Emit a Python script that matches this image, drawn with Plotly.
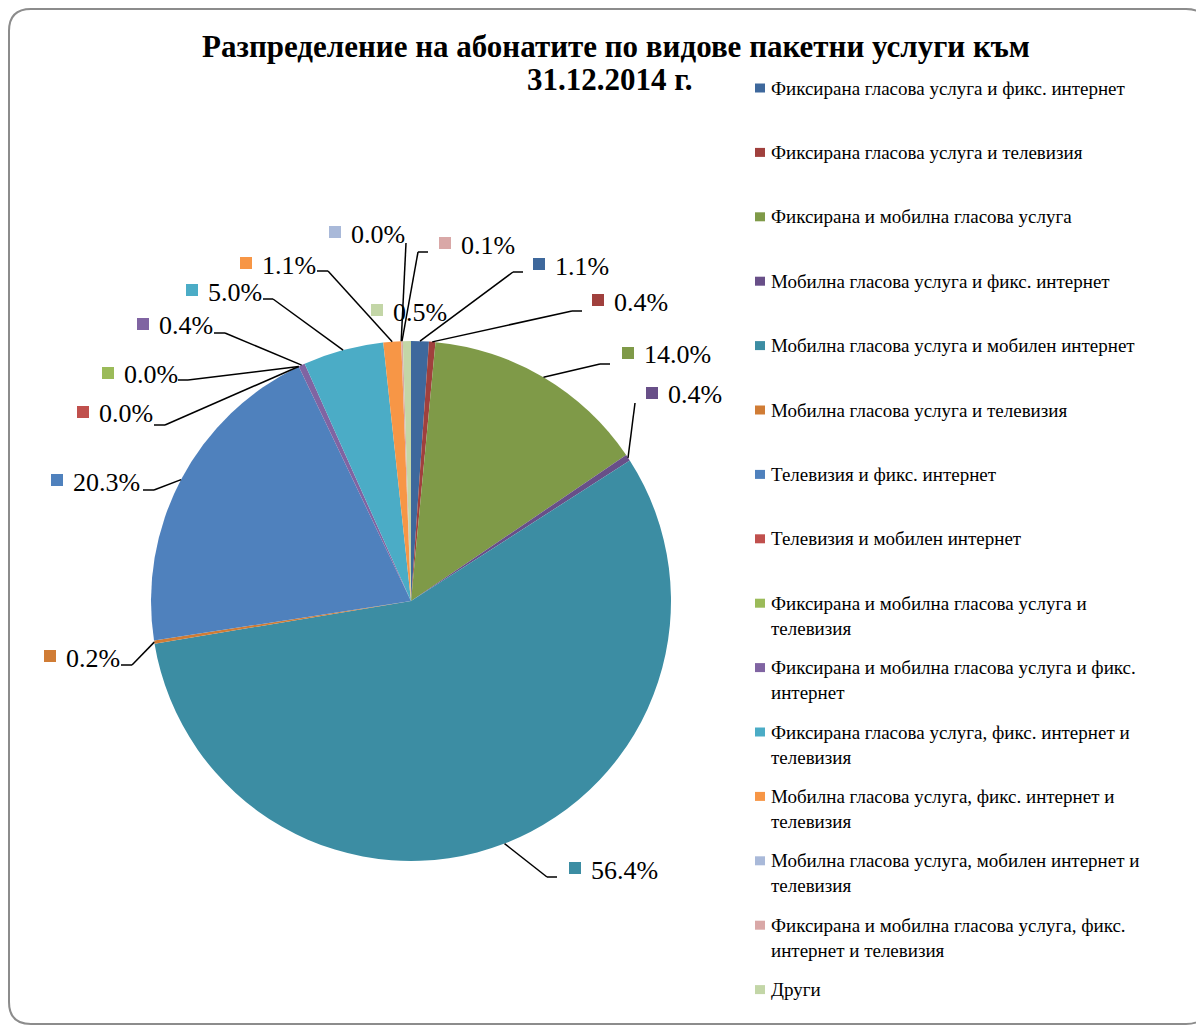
import math
import plotly.graph_objects as go

# ---------------- data ----------------
labels = [
    "Фиксирана гласова услуга и фикс. интернет",
    "Фиксирана гласова услуга и телевизия",
    "Фиксирана и мобилна гласова услуга",
    "Мобилна гласова услуга и фикс. интернет",
    "Мобилна гласова услуга и мобилен интернет",
    "Мобилна гласова услуга и телевизия",
    "Телевизия и фикс. интернет",
    "Телевизия и мобилен интернет",
    "Фиксирана и мобилна гласова услуга и телевизия",
    "Фиксирана и мобилна гласова услуга и фикс. интернет",
    "Фиксирана гласова услуга, фикс. интернет и телевизия",
    "Мобилна гласова услуга, фикс. интернет и телевизия",
    "Мобилна гласова услуга, мобилен интернет и телевизия",
    "Фиксирана и мобилна гласова услуга, фикс. интернет и телевизия",
    "Други",
]
values = [1.1, 0.4, 14.0, 0.4, 56.4, 0.2, 20.3, 0.0, 0.0, 0.4, 5.0, 1.1, 0.0, 0.1, 0.5]
legend_lines = [
    ["Фиксирана гласова услуга и фикс. интернет"],
    ["Фиксирана гласова услуга и телевизия"],
    ["Фиксирана и мобилна гласова услуга"],
    ["Мобилна гласова услуга и фикс. интернет"],
    ["Мобилна гласова услуга и мобилен интернет"],
    ["Мобилна гласова услуга и телевизия"],
    ["Телевизия и фикс. интернет"],
    ["Телевизия и мобилен интернет"],
    ["Фиксирана и мобилна гласова услуга и", "телевизия"],
    ["Фиксирана и мобилна гласова услуга и фикс.", "интернет"],
    ["Фиксирана гласова услуга, фикс. интернет и", "телевизия"],
    ["Мобилна гласова услуга, фикс. интернет и", "телевизия"],
    ["Мобилна гласова услуга, мобилен интернет и", "телевизия"],
    ["Фиксирана и мобилна гласова услуга, фикс.", "интернет и телевизия"],
    ["Други"],
]
title_lines = ["Разпределение на абонатите по видове пакетни услуги към", "31.12.2014 г."]

# ---------------- styles / layout ----------------
colors = ["#3E689C", "#A0403D", "#7F9A48", "#684F88", "#3C8DA3", "#D07C35",
          "#4F81BD", "#C0504D", "#9BBB59", "#8064A2", "#4BACC6", "#F79646",
          "#A9B9D9", "#D9A8A7", "#C3D6A7"]

OFF_X, OFF_Y = 8, 8          # page body margin
W, H = 1204 - OFF_X, 1025 - OFF_Y
CX, CY, R = 411, 601, 260    # pie centre / radius (page pixels)

# data-label placement: square centre and leader-line points (page pixels)
label_pos = [(539, 264), (598, 300), (628, 353), (652, 393), (575, 868), (50, 656),
             (57, 480), (83, 412), (108, 373), (143, 324), (192, 290), (246, 263),
             (335, 232), (445, 243), (377, 310)]
leader_pts = [
    [(513, 272), (523, 272)], [(572, 311), (582, 311)], [(600, 364), (610, 364)],
    [(635, 403)], [(547, 877), (557, 877)], [(132, 665), (121, 665)],
    [(154, 490), (143, 490)], [(165, 425), (154, 425)], [(188, 380), (178, 380)],
    [(225, 333), (214, 333)], [(273, 299), (263, 299)], [(328, 271), (317, 271)],
    [(406, 243)], [(418, 252), (428, 252)], [],
]

FONT = "Liberation Serif, Times New Roman, serif"


def fx(x):
    return (x - OFF_X) / W


def fy(y):
    return 1 - (y - OFF_Y) / H


fig = go.Figure()
fig.add_trace(go.Pie(
    labels=labels, values=values, sort=False, direction="clockwise", rotation=0,
    marker=dict(colors=colors, line=dict(width=0)), textinfo="none",
    showlegend=False, hoverinfo="label+value",
    domain=dict(x=[fx(CX - R), fx(CX + R)], y=[fy(CY + R), fy(CY - R)]),
))

shapes = []
annotations = []

# frame
fl, ft, fr, fb, rr = 9, 9, 1208, 1024, 22
path = (f"M {fx(fl+rr)},{fy(ft)} L {fx(fr-rr)},{fy(ft)} Q {fx(fr)},{fy(ft)} {fx(fr)},{fy(ft+rr)} "
        f"L {fx(fr)},{fy(fb-rr)} Q {fx(fr)},{fy(fb)} {fx(fr-rr)},{fy(fb)} "
        f"L {fx(fl+rr)},{fy(fb)} Q {fx(fl)},{fy(fb)} {fx(fl)},{fy(fb-rr)} "
        f"L {fx(fl)},{fy(ft+rr)} Q {fx(fl)},{fy(ft)} {fx(fl+rr)},{fy(ft)} Z")
shapes.append(dict(type="path", xref="paper", yref="paper", path=path,
                   line=dict(color="#8C8C8C", width=2), fillcolor="rgba(0,0,0,0)", layer="below"))

# data labels with leader lines
total = sum(values)
cum = 0.0
for i, v in enumerate(values):
    mid = (cum + v / 2) / total * 2 * math.pi
    cum += v
    ax = CX + R * math.sin(mid)
    ay = CY - R * math.cos(mid)
    pts = [(ax, ay)] + leader_pts[i]
    if len(pts) > 1:
        for (x0, y0), (x1, y1) in zip(pts[:-1], pts[1:]):
            shapes.append(dict(type="line", xref="paper", yref="paper",
                               x0=fx(x0), y0=fy(y0), x1=fx(x1), y1=fy(y1),
                               line=dict(color="black", width=1.5)))
    sx, sy = label_pos[i]
    shapes.append(dict(type="rect", xref="paper", yref="paper",
                       x0=fx(sx - 6), x1=fx(sx + 6), y0=fy(sy - 6), y1=fy(sy + 6),
                       fillcolor=colors[i], line=dict(width=0)))
    annotations.append(dict(x=fx(sx + 14), y=fy(sy + 2), xref="paper", yref="paper",
                            text=f"{v:.1f}%", showarrow=False, xanchor="left", yanchor="middle",
                            font=dict(family=FONT, size=26, color="black")))

# legend (manual, Excel-like spacing)
LY0, LDY = 88, 64.4
for i, lines in enumerate(legend_lines):
    y = LY0 + LDY * i
    shapes.append(dict(type="rect", xref="paper", yref="paper",
                       x0=fx(755), x1=fx(765), y0=fy(y - 4.5), y1=fy(y + 4.5),
                       fillcolor=colors[i], line=dict(width=0)))
    annotations.append(dict(x=fx(769), y=fy(y - 12.5), xref="paper", yref="paper",
                            text="<br>".join(lines), showarrow=False, xanchor="left", yanchor="top",
                            align="left", font=dict(family=FONT, size=19, color="black")))

# title (two lines)
for j, (line, ty) in enumerate(zip(title_lines, [47, 79])):
    annotations.append(dict(x=fx(616 if j == 0 else 610), y=fy(ty), xref="paper", yref="paper",
                            text="<b>" + line + "</b>", showarrow=False,
                            xanchor="center", yanchor="middle",
                            font=dict(family=FONT, size=31, color="black")))

fig.update_layout(width=W, height=H, margin=dict(l=0, r=0, t=0, b=0),
                  paper_bgcolor="white", plot_bgcolor="white",
                  shapes=shapes, annotations=annotations, showlegend=False)
fig.write_html("out.html")
